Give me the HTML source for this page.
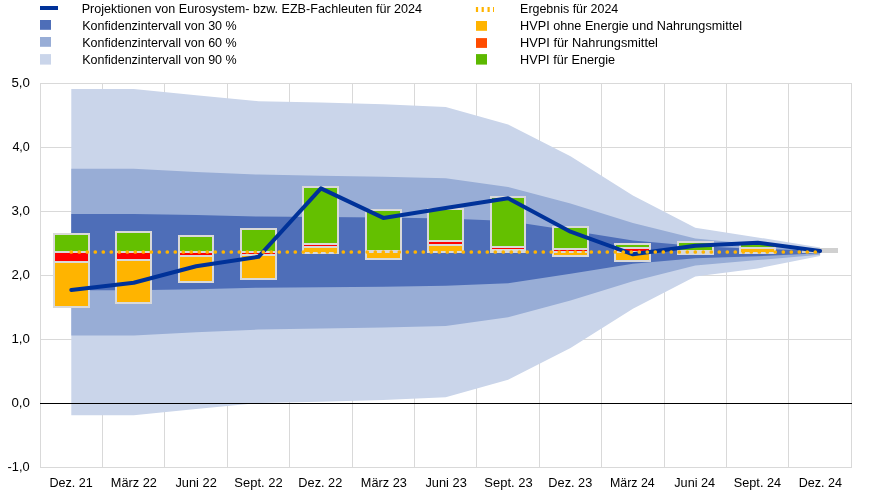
<!DOCTYPE html>
<html><head><meta charset="utf-8"><title>Chart</title>
<style>
html,body{margin:0;padding:0;background:#fff;}
svg{display:block;will-change:transform;}
text{font-family:"Liberation Sans",Arial,sans-serif;font-size:13.6px;fill:#000;}
</style></head><body>
<svg width="874" height="504" viewBox="0 0 874 504">
<rect width="874" height="504" fill="#fff"/>
<line x1="40" y1="83.5" x2="852" y2="83.5" stroke="#D9D9D9" stroke-width="1"/>
<line x1="40" y1="147.5" x2="852" y2="147.5" stroke="#D9D9D9" stroke-width="1"/>
<line x1="40" y1="211.5" x2="852" y2="211.5" stroke="#D9D9D9" stroke-width="1"/>
<line x1="40" y1="275.5" x2="852" y2="275.5" stroke="#D9D9D9" stroke-width="1"/>
<line x1="40" y1="339.5" x2="852" y2="339.5" stroke="#D9D9D9" stroke-width="1"/>
<line x1="40" y1="467.5" x2="852" y2="467.5" stroke="#D9D9D9" stroke-width="1"/>
<line x1="40.5" y1="83" x2="40.5" y2="468" stroke="#D9D9D9" stroke-width="1"/>
<line x1="102.5" y1="83" x2="102.5" y2="468" stroke="#D9D9D9" stroke-width="1"/>
<line x1="164.5" y1="83" x2="164.5" y2="468" stroke="#D9D9D9" stroke-width="1"/>
<line x1="227.5" y1="83" x2="227.5" y2="468" stroke="#D9D9D9" stroke-width="1"/>
<line x1="289.5" y1="83" x2="289.5" y2="468" stroke="#D9D9D9" stroke-width="1"/>
<line x1="352.5" y1="83" x2="352.5" y2="468" stroke="#D9D9D9" stroke-width="1"/>
<line x1="414.5" y1="83" x2="414.5" y2="468" stroke="#D9D9D9" stroke-width="1"/>
<line x1="476.5" y1="83" x2="476.5" y2="468" stroke="#D9D9D9" stroke-width="1"/>
<line x1="539.5" y1="83" x2="539.5" y2="468" stroke="#D9D9D9" stroke-width="1"/>
<line x1="601.5" y1="83" x2="601.5" y2="468" stroke="#D9D9D9" stroke-width="1"/>
<line x1="664.5" y1="83" x2="664.5" y2="468" stroke="#D9D9D9" stroke-width="1"/>
<line x1="726.5" y1="83" x2="726.5" y2="468" stroke="#D9D9D9" stroke-width="1"/>
<line x1="788.5" y1="83" x2="788.5" y2="468" stroke="#D9D9D9" stroke-width="1"/>
<line x1="851.5" y1="83" x2="851.5" y2="468" stroke="#D9D9D9" stroke-width="1"/>
<polygon points="71.30,89.00 133.70,89.00 196.10,95.20 258.50,101.25 320.90,102.50 383.30,104.25 445.70,107.00 508.10,124.50 570.50,156.25 632.90,195.50 695.30,227.70 757.70,237.40 820.10,247.50 820.10,256.00 757.70,268.40 695.30,276.50 632.90,308.70 570.50,347.95 508.10,379.70 445.70,397.20 383.30,399.95 320.90,401.70 258.50,402.95 196.10,409.00 133.70,415.20 71.30,415.20" fill="#CAD5EA"/>
<polygon points="71.30,168.75 133.70,168.75 196.10,172.00 258.50,174.60 320.90,175.75 383.30,176.75 445.70,178.25 508.10,187.00 570.50,203.60 632.90,223.00 695.30,238.60 757.70,244.50 820.10,249.50 820.10,254.70 757.70,260.10 695.30,265.60 632.90,281.20 570.50,300.60 508.10,317.20 445.70,325.95 383.30,327.45 320.90,328.45 258.50,329.60 196.10,332.20 133.70,335.45 71.30,335.45" fill="#98ADD6"/>
<polygon points="71.30,213.90 133.70,214.00 196.10,215.00 258.50,216.50 320.90,217.00 383.30,217.50 445.70,218.50 508.10,221.00 570.50,230.40 632.90,240.40 695.30,245.90 757.70,249.00 820.10,250.50 820.10,253.30 757.70,256.20 695.30,258.30 632.90,263.80 570.50,273.80 508.10,283.20 445.70,285.70 383.30,286.70 320.90,287.20 258.50,287.70 196.10,289.20 133.70,290.20 71.30,290.30" fill="#4E6EB8"/>
<line x1="40" y1="403.5" x2="852" y2="403.5" stroke="#000" stroke-width="1"/>
<rect x="53" y="233" width="37" height="75" fill="#D9D9D9"/>
<rect x="55" y="235" width="33" height="16" fill="#64C000"/>
<rect x="55" y="253" width="33" height="8" fill="#FF0000"/>
<rect x="55" y="263" width="33" height="43" fill="#FFB400"/>
<rect x="115" y="231" width="37" height="73" fill="#D9D9D9"/>
<rect x="117" y="233" width="33" height="18" fill="#64C000"/>
<rect x="117" y="253" width="33" height="6" fill="#FF0000"/>
<rect x="117" y="261" width="33" height="41" fill="#FFB400"/>
<rect x="178" y="235" width="36" height="48" fill="#D9D9D9"/>
<rect x="180" y="237" width="32" height="14" fill="#64C000"/>
<rect x="180" y="253" width="32" height="2" fill="#FF0000"/>
<rect x="180" y="257" width="32" height="24" fill="#FFB400"/>
<rect x="240" y="228" width="37" height="52" fill="#D9D9D9"/>
<rect x="242" y="230" width="33" height="21" fill="#64C000"/>
<rect x="242" y="253" width="33" height="1" fill="#FF0000"/>
<rect x="242" y="256" width="33" height="22" fill="#FFB400"/>
<rect x="302" y="186" width="37" height="68" fill="#D9D9D9"/>
<rect x="304" y="188" width="33" height="55" fill="#64C000"/>
<rect x="304" y="245" width="33" height="1" fill="#FF0000"/>
<rect x="304" y="248" width="33" height="4" fill="#FFB400"/>
<rect x="365" y="209" width="37" height="51" fill="#D9D9D9"/>
<rect x="367" y="211" width="33" height="39" fill="#64C000"/>
<rect x="367" y="253" width="33" height="5" fill="#FFB400"/>
<rect x="427" y="208" width="37" height="45" fill="#D9D9D9"/>
<rect x="429" y="210" width="33" height="30" fill="#64C000"/>
<rect x="429" y="242" width="33" height="2" fill="#FF0000"/>
<rect x="429" y="246" width="33" height="5" fill="#FFB400"/>
<rect x="490" y="196" width="36" height="57" fill="#D9D9D9"/>
<rect x="492" y="198" width="32" height="48" fill="#64C000"/>
<rect x="492" y="248" width="32" height="1" fill="#FF0000"/>
<rect x="552" y="226" width="37" height="31" fill="#D9D9D9"/>
<rect x="554" y="228" width="33" height="20" fill="#64C000"/>
<rect x="554" y="250" width="33" height="1" fill="#FF0000"/>
<rect x="554" y="253" width="33" height="2" fill="#FFB400"/>
<rect x="614" y="243" width="37" height="19" fill="#D9D9D9"/>
<rect x="616" y="245" width="33" height="2" fill="#64C000"/>
<rect x="616" y="249" width="33" height="2" fill="#FF0000"/>
<rect x="616" y="253" width="33" height="7" fill="#FFB400"/>
<rect x="677" y="241" width="37" height="14" fill="#D9D9D9"/>
<rect x="679" y="243" width="33" height="7" fill="#64C000"/>
<rect x="739" y="243" width="37" height="11" fill="#D9D9D9"/>
<rect x="741" y="245" width="33" height="2" fill="#64C000"/>
<rect x="741" y="249" width="33" height="3" fill="#FFB400"/>
<rect x="802" y="248" width="36" height="5" fill="#D0D0D0"/>
<polyline points="71.30,290.00 133.70,282.80 196.10,266.30 258.50,256.80 320.90,188.40 383.30,217.90 445.70,208.00 508.10,198.20 570.50,231.70 632.90,254.30 695.30,245.80 757.70,242.70 820.10,251.10" fill="none" stroke="#003299" stroke-width="4" stroke-linejoin="round" stroke-linecap="round"/>
<line x1="71.30" y1="252" x2="820.10" y2="252" stroke="#FFB400" stroke-width="3.7" stroke-dasharray="0 8" stroke-linecap="round"/>
<text x="81.67" y="13" textLength="340.40" lengthAdjust="spacingAndGlyphs">Projektionen von Eurosystem- bzw. EZB-Fachleuten für 2024</text>
<text x="82.18" y="30" textLength="154.53" lengthAdjust="spacingAndGlyphs">Konfidenzintervall von 30 %</text>
<text x="82.18" y="47" textLength="154.53" lengthAdjust="spacingAndGlyphs">Konfidenzintervall von 60 %</text>
<text x="82.18" y="64" textLength="154.53" lengthAdjust="spacingAndGlyphs">Konfidenzintervall von 90 %</text>
<text x="520.08" y="13" textLength="98.20" lengthAdjust="spacingAndGlyphs">Ergebnis für 2024</text>
<text x="520.07" y="30" textLength="221.99" lengthAdjust="spacingAndGlyphs">HVPI ohne Energie und Nahrungsmittel</text>
<text x="520.06" y="47" textLength="137.88" lengthAdjust="spacingAndGlyphs">HVPI für Nahrungsmittel</text>
<text x="520.07" y="64" textLength="95.06" lengthAdjust="spacingAndGlyphs">HVPI für Energie</text>
<text x="49.47" y="487" textLength="43.42" lengthAdjust="spacingAndGlyphs">Dez. 21</text>
<text x="110.76" y="487" textLength="46.08" lengthAdjust="spacingAndGlyphs">März 22</text>
<text x="175.46" y="487" textLength="41.34" lengthAdjust="spacingAndGlyphs">Juni 22</text>
<text x="234.35" y="487" textLength="48.26" lengthAdjust="spacingAndGlyphs">Sept. 22</text>
<text x="298.36" y="487" textLength="43.94" lengthAdjust="spacingAndGlyphs">Dez. 22</text>
<text x="360.86" y="487" textLength="45.97" lengthAdjust="spacingAndGlyphs">März 23</text>
<text x="425.46" y="487" textLength="41.34" lengthAdjust="spacingAndGlyphs">Juni 23</text>
<text x="484.35" y="487" textLength="48.26" lengthAdjust="spacingAndGlyphs">Sept. 23</text>
<text x="548.36" y="487" textLength="43.94" lengthAdjust="spacingAndGlyphs">Dez. 23</text>
<text x="609.99" y="487" textLength="44.71" lengthAdjust="spacingAndGlyphs">März 24</text>
<text x="674.27" y="487" textLength="40.92" lengthAdjust="spacingAndGlyphs">Juni 24</text>
<text x="733.77" y="487" textLength="47.33" lengthAdjust="spacingAndGlyphs">Sept. 24</text>
<text x="798.68" y="487" textLength="43.32" lengthAdjust="spacingAndGlyphs">Dez. 24</text>
<text x="11.42" y="87" textLength="18.46" lengthAdjust="spacingAndGlyphs">5,0</text>
<text x="12.40" y="151" textLength="17.44" lengthAdjust="spacingAndGlyphs">4,0</text>
<text x="11.42" y="215" textLength="18.46" lengthAdjust="spacingAndGlyphs">3,0</text>
<text x="11.42" y="279" textLength="18.46" lengthAdjust="spacingAndGlyphs">2,0</text>
<text x="11.42" y="343" textLength="18.46" lengthAdjust="spacingAndGlyphs">1,0</text>
<text x="11.42" y="407" textLength="18.46" lengthAdjust="spacingAndGlyphs">0,0</text>
<text x="7.56" y="471" textLength="22.05" lengthAdjust="spacingAndGlyphs">-1,0</text>
<rect x="40" y="6" width="18" height="4" fill="#003299"/>
<rect x="40" y="20" width="11" height="9.8" fill="#4E6EB8"/>
<rect x="40" y="37" width="11" height="9.8" fill="#98ADD6"/>
<rect x="40" y="54.1" width="11" height="10.5" fill="#CAD5EA"/>
<rect x="475.9" y="7" width="2.2" height="5" fill="#FFB400"/>
<rect x="481.6" y="7" width="2.2" height="5" fill="#FFB400"/>
<rect x="487.5" y="7" width="2.2" height="5" fill="#FFB400"/>
<rect x="493" y="7" width="1" height="5" fill="#FFB400"/>
<rect x="476" y="21" width="11" height="9.8" fill="#FFB400"/>
<rect x="476" y="38.1" width="11" height="9.8" fill="#FF4B00"/>
<rect x="476" y="54.1" width="11" height="10.5" fill="#5CB800"/>
</svg>
</body></html>
